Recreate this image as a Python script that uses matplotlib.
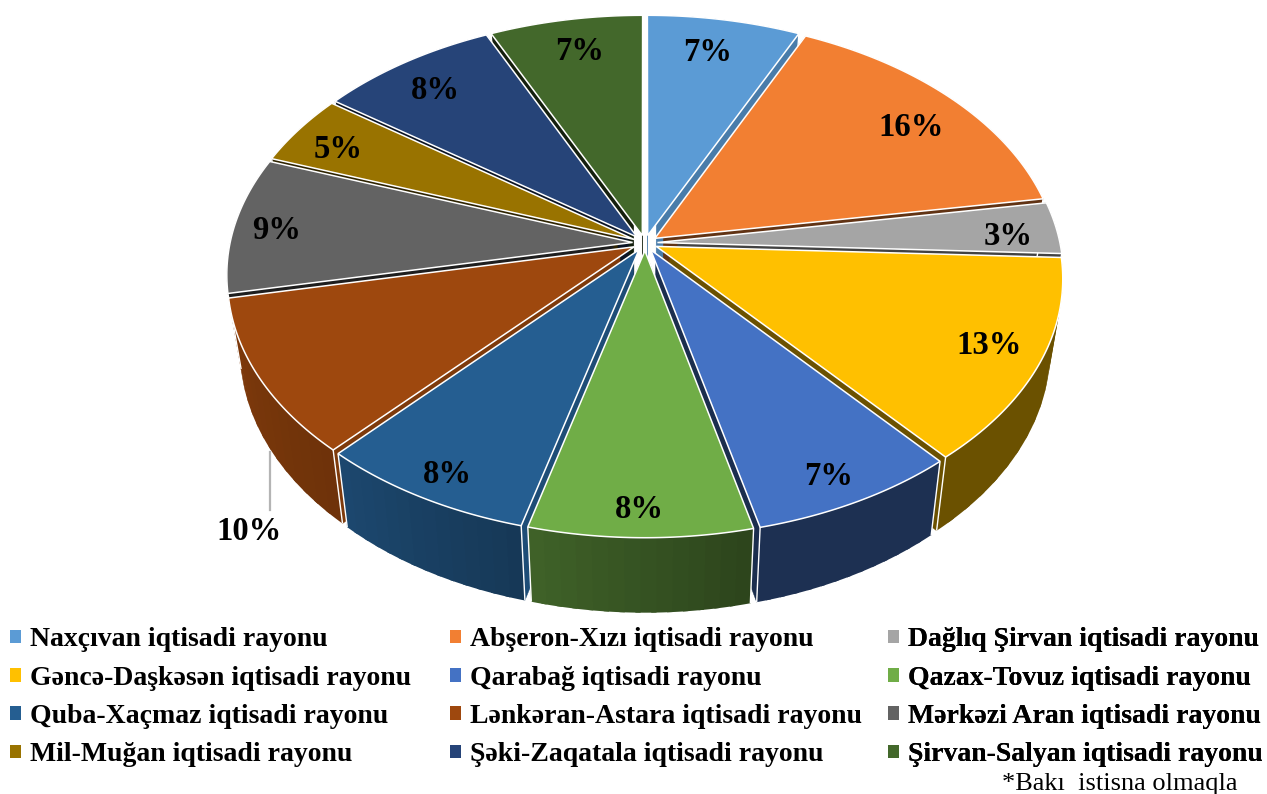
import numpy as np
import matplotlib
matplotlib.use("Agg")
import matplotlib.pyplot as plt
from matplotlib.patches import Polygon, Patch
from matplotlib.colors import to_rgb

regions = ["Naxçıvan iqtisadi rayonu", "Abşeron-Xızı iqtisadi rayonu", "Dağlıq Şirvan iqtisadi rayonu",
           "Gəncə-Daşkəsən iqtisadi rayonu", "Qarabağ iqtisadi rayonu", "Qazax-Tovuz iqtisadi rayonu",
           "Quba-Xaçmaz iqtisadi rayonu", "Lənkəran-Astara iqtisadi rayonu", "Mərkəzi Aran iqtisadi rayonu",
           "Mil-Muğan iqtisadi rayonu", "Şəki-Zaqatala iqtisadi rayonu", "Şirvan-Salyan iqtisadi rayonu"]
shares = [6.9, 15.5, 3.3, 13.1, 7.4, 7.9, 7.7, 10.0, 8.7, 4.5, 8.1, 6.9]

colors = ["#5B9BD5", "#F27F32", "#A5A5A5", "#FFC000", "#4472C4", "#70AD47",
          "#255E91", "#9E480E", "#636363", "#997300", "#264478", "#43682B"]
rim_start = [.45, .45, .45, .42, .42, .40, .60, .70, .45, .45, .45, .45]
rim_end = [.45, .45, .45, .42, .42, .56, .76, .80, .45, .45, .45, .45]
wall_fac = [.80, .40, .40, .42, .40, .50, .82, .80, .30, .30, .30, .30]
label_r = [.848, .837, .881, .872, .898, .905, .906, 1.0, .896, .87, .855, .858]
label_turn = [-1.0, 1.6, 0.9, -1.0, 0.8, 0.2, -0.5, 0.0, -0.3, -1.0, -0.3, 0.6]

plt.rcParams["font.family"] = ["Liberation Serif", "DejaVu Serif"]
W, H = 1267, 794
fig = plt.figure(figsize=(W / 100, H / 100), dpi=100)
ax = fig.add_axes([0, 0, 1, 1])
ax.set_xlim(0, W)
ax.set_ylim(H, 0)
ax.axis("off")

CX, CY, RX, RY, K = 645, 243, 415, 257, 0.128
EXPLODE, DEPTH, SHRINK = 0.03, 70, 0.97
BANDS = 14


def project(u, v, low=False):
    u, v = np.asarray(u, float), np.asarray(v, float)
    f = 1 / (1 + K * v)
    x, y = CX + RX * u * f, CY - RY * v * f
    if low:
        x = CX + (x - CX) * SHRINK
        y = y + DEPTH * f ** 0.5
    return np.column_stack([np.atleast_1d(x), np.atleast_1d(y)])


def scale(col, fac):
    return tuple(c * fac for c in to_rgb(col))


edges = np.concatenate([[0], np.cumsum(shares)]) / np.sum(shares) * 2 * np.pi
mids = (edges[:-1] + edges[1:]) / 2
order = np.argsort(-np.cos(mids))

for z, i in enumerate(order):
    a0, a1, m = edges[i], edges[i + 1], mids[i]
    au, av = EXPLODE * np.sin(m), EXPLODE * np.cos(m)
    t = np.linspace(a0, a1, BANDS * 6 + 1)
    u = au + (1 - EXPLODE) * np.sin(t)
    v = av + (1 - EXPLODE) * np.cos(t)
    zb = 2 + z * 0.01
    top_arc, low_arc = project(u, v), project(u, v, True)
    apex_t = project(au, av)
    # radial walls start a little away from the apex, leaving the white hole in the middle
    wall_col = scale(colors[i], wall_fac[i])
    wall_z = zb + 0.002 if np.cos(m) > 0 else zb - 0.002
    for end, ang in ((0, a0), (-1, a1)):
        iu, iv = au + 0.05 * np.sin(ang), av + 0.05 * np.cos(ang)
        ax.add_patch(Polygon(np.vstack([project(iu, iv), top_arc[end], low_arc[end], project(iu, iv, True)]),
                             closed=True, fc=wall_col, ec=wall_col, lw=.3, zorder=wall_z))
    # outer rim: overlapping bands so no seams appear
    for b in range(BANDS):
        w = b / (BANDS - 1)
        c = scale(colors[i], rim_start[i] * (1 - w) + rim_end[i] * w)
        lo = b * 6
        hi = min((b + 1) * 6 + 2, len(t) - 1)
        ax.add_patch(Polygon(np.vstack([top_arc[lo:hi + 1], low_arc[lo:hi + 1][::-1]]),
                             closed=True, fc=c, ec="none", lw=0, zorder=zb))
    for end in (0, -1):
        ax.plot([top_arc[end, 0], low_arc[end, 0]], [top_arc[end, 1], low_arc[end, 1]],
                color="white", lw=1.0, zorder=zb + 0.003, solid_capstyle="butt")
    ax.add_patch(Polygon(np.vstack([apex_t, top_arc]), closed=True, fc=colors[i], ec="white",
                         lw=1.1, joinstyle="miter", zorder=zb + 0.004))

for i, s in enumerate(shares):
    if i == 7:
        continue
    ang = mids[i] + np.radians(label_turn[i])
    p = project(label_r[i] * np.sin(ang), label_r[i] * np.cos(ang))[0]
    ax.text(p[0], p[1] + 3, f"{int(s + 0.5):d}%", ha="center", va="center", fontsize=23.5,
            fontweight="bold", color="black", zorder=10)

ax.plot([270, 270], [452, 510], color="#b4b4b4", lw=1.6, zorder=9)
ax.text(249, 532, f"{int(shares[7] + 0.5):d}%", ha="center", va="center", fontsize=23.5, fontweight="bold", zorder=10)

col_x = [1.7, 441.7, 879.7]
for c in range(3):
    idx = range(c, 12, 3)
    handles = [Patch(fc=colors[i], ec="none") for i in idx]
    labels = [regions[i] for i in idx]
    leg = ax.legend(handles, labels, loc="upper left", bbox_to_anchor=(col_x[c], 619), bbox_transform=ax.transData,
                    frameon=False, ncol=1, prop={"family": "Liberation Serif", "weight": "bold", "size": 20.0},
                    handlelength=0.38, handleheight=0.38, handletextpad=0.33, labelspacing=0.48,
                    borderpad=0.3, borderaxespad=0)
    ax.add_artist(leg)
ax.text(1237, 784, "*Bakı  istisna olmaqla", ha="right", va="center", fontsize=19, color="black")
fig.savefig("out.png", dpi=100)
